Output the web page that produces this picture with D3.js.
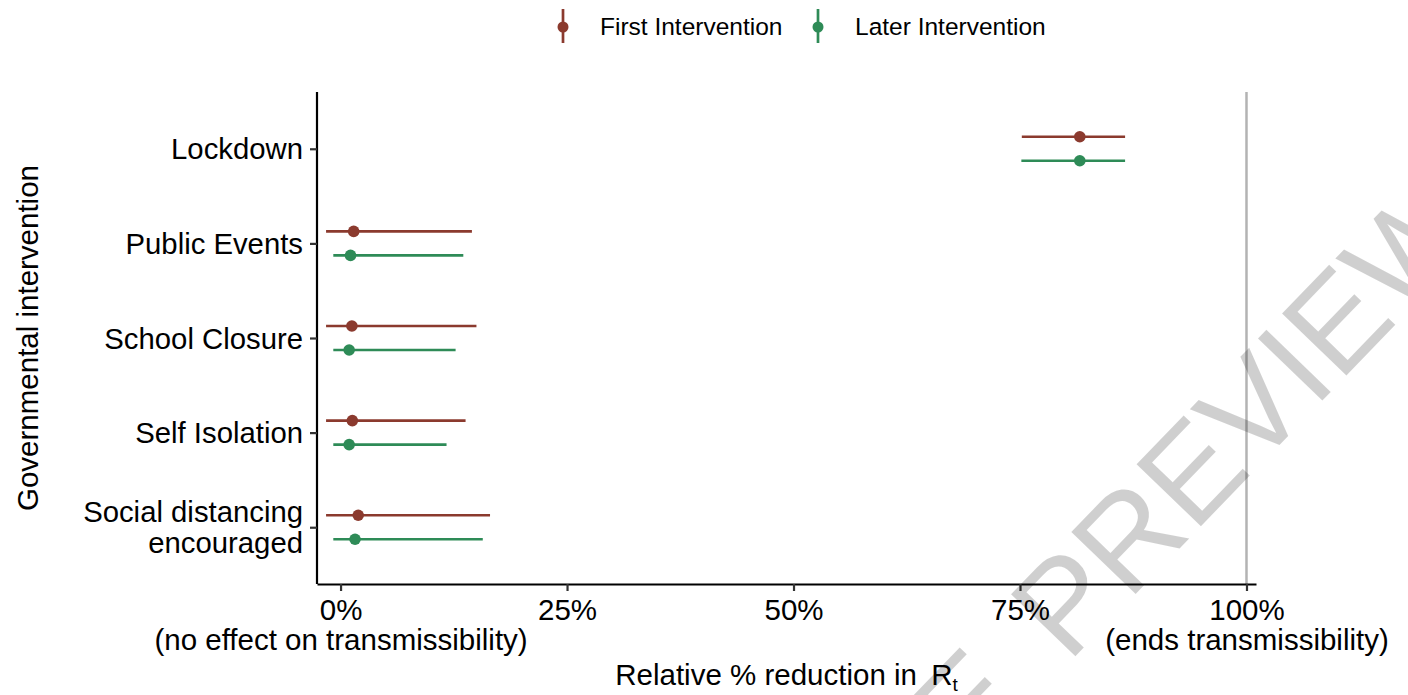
<!DOCTYPE html>
<html>
<head>
<meta charset="utf-8">
<script src="https://cdn.jsdelivr.net/npm/d3@7"></script>
<style>
  html, body { margin: 0; padding: 0; background: #fff; }
  svg { display: block; }
  text { font-family: "Liberation Sans", Arial, Helvetica, sans-serif; fill: #000; }
</style>
</head>
<body>
<svg id="chart" width="1408" height="695"></svg>
<script>
// ---- data (percent reduction in Rt) ----
const categories = ["Lockdown", "Public Events", "School Closure", "Self Isolation", "Social distancing encouraged"];
const categoryLabels = [["Lockdown"], ["Public Events"], ["School Closure"], ["Self Isolation"], ["Social distancing", "encouraged"]];
const seriesNames = ["First Intervention", "Later Intervention"];
const firstMean = [81.6, 1.45, 1.25, 1.3, 1.95];
const firstLow  = [75.2, -1.6, -1.6, -1.6, -1.6];
const firstHigh = [86.6, 14.5, 15.0, 13.8, 16.5];
const laterMean = [81.6, 1.1, 0.95, 0.95, 1.6];
const laterLow  = [75.15, -0.8, -0.8, -0.8, -0.8];
const laterHigh = [86.6, 13.55, 12.7, 11.7, 15.7];
const xTicks = [0, 25, 50, 75, 100];
const xTickLabels = [["0%", "(no effect on transmissibility)"], ["25%"], ["50%"], ["75%"], ["100%", "(ends transmissibility)"]];
const colors = ["#8B3A2E", "#2E8B57"];

const rows = [];
categories.forEach((c, i) => {
  rows.push({cat: c, series: seriesNames[0], mean: firstMean[i], lo: firstLow[i], hi: firstHigh[i]});
  rows.push({cat: c, series: seriesNames[1], mean: laterMean[i], lo: laterLow[i], hi: laterHigh[i]});
});

const svg = d3.select("#chart");
const panel = {left: 317, right: 1256, top: 92, bottom: 584};

const x = d3.scaleLinear().domain([-2.6, 101.05]).range([panel.left, panel.right]);
const y = d3.scalePoint().domain(categories).range([panel.top, panel.bottom]).padding(0.6);
const dodge = d3.scalePoint().domain(seriesNames).range([-12, 12]);
const color = d3.scaleOrdinal().domain(seriesNames).range(colors);

// reference line at 100%
svg.append("line")
  .attr("x1", x(100)).attr("x2", x(100))
  .attr("y1", panel.top).attr("y2", panel.bottom)
  .attr("stroke", "#b3b3b3").attr("stroke-width", 2.5);

// ranges
const g = svg.append("g");
g.selectAll("line.range").data(rows).join("line")
  .attr("class", "range")
  .attr("x1", d => x(d.lo)).attr("x2", d => x(d.hi))
  .attr("y1", d => y(d.cat) + dodge(d.series)).attr("y2", d => y(d.cat) + dodge(d.series))
  .attr("stroke", d => color(d.series)).attr("stroke-width", 2.7);
g.selectAll("circle.pt").data(rows).join("circle")
  .attr("class", "pt")
  .attr("cx", d => x(d.mean)).attr("cy", d => y(d.cat) + dodge(d.series))
  .attr("r", 5.8).attr("fill", d => color(d.series));

// x axis
const xAxis = svg.append("g").attr("transform", `translate(0,${panel.bottom})`)
  .call(d3.axisBottom(x).tickValues(xTicks).tickSize(7).tickSizeOuter(0).tickFormat(""));
xAxis.select(".domain").attr("stroke", "#000").attr("stroke-width", 2.2);
xAxis.selectAll(".tick line").attr("stroke", "#333").attr("stroke-width", 2.2);
xAxis.selectAll(".tick").each(function(d, i) {
  const t = d3.select(this).append("text")
    .attr("text-anchor", "middle").attr("font-size", 29.5).attr("fill", "#000");
  xTickLabels[i].forEach((s, k) => {
    t.append("tspan").attr("x", 0).attr("y", k === 0 ? 36 : 66).text(s);
  });
});

// y axis
const yAxis = svg.append("g").attr("transform", `translate(${panel.left},0)`)
  .call(d3.axisLeft(y).tickSize(7).tickSizeOuter(0).tickFormat(""));
yAxis.select(".domain").attr("stroke", "#000").attr("stroke-width", 2.2)
  .attr("d", `M0,${panel.top}V${panel.bottom}`);
yAxis.selectAll(".tick line").attr("stroke", "#333").attr("stroke-width", 2.2);
yAxis.selectAll(".tick").each(function(d, i) {
  const lines = categoryLabels[i];
  const t = d3.select(this).append("text")
    .attr("text-anchor", "end").attr("font-size", 29.3).attr("fill", "#000");
  lines.forEach((s, k) => {
    const base = lines.length === 1 ? 10 : (k === 0 ? -6 : 25.5);
    t.append("tspan").attr("x", -14).attr("y", base).text(s);
  });
});

// axis titles
const xt = svg.append("text").attr("x", (panel.left + panel.right) / 2).attr("y", 685)
  .attr("text-anchor", "middle").attr("font-size", 29.5);
xt.append("tspan").text("Relative % reduction in ");
xt.append("tspan").attr("dx", 6).text("R");
xt.append("tspan").attr("font-size", 19).attr("dy", 6).text("t");

svg.append("text")
  .attr("transform", `translate(38,${(panel.top + panel.bottom) / 2}) rotate(-90)`)
  .attr("text-anchor", "middle").attr("font-size", 29.5)
  .text("Governmental intervention");

// legend
const legendX = [563, 818];
const legend = svg.append("g");
seriesNames.forEach((s, i) => {
  const lg = legend.append("g").attr("transform", `translate(${legendX[i]},0)`);
  lg.append("line").attr("x1", 0).attr("x2", 0).attr("y1", 9).attr("y2", 43)
    .attr("stroke", color(s)).attr("stroke-width", 2.7);
  lg.append("circle").attr("cx", 0).attr("cy", 27).attr("r", 5.5).attr("fill", color(s));
  lg.append("text").attr("x", 37).attr("y", 35).attr("font-size", 24.5).text(s);
});

// watermark
const wm = svg.append("g").attr("transform", "translate(1068,664) rotate(-46)")
  .attr("pointer-events", "none");
wm.append("text").attr("text-anchor", "end").attr("x", -55).attr("font-size", 130)
  .style("fill", "#000").style("fill-opacity", 0.19).text("SAMPLE");
wm.append("text").attr("text-anchor", "start").attr("x", 0).attr("font-size", 130)
  .style("fill", "#000").style("fill-opacity", 0.19).text("PREVIEW");
</script>
</body>
</html>
